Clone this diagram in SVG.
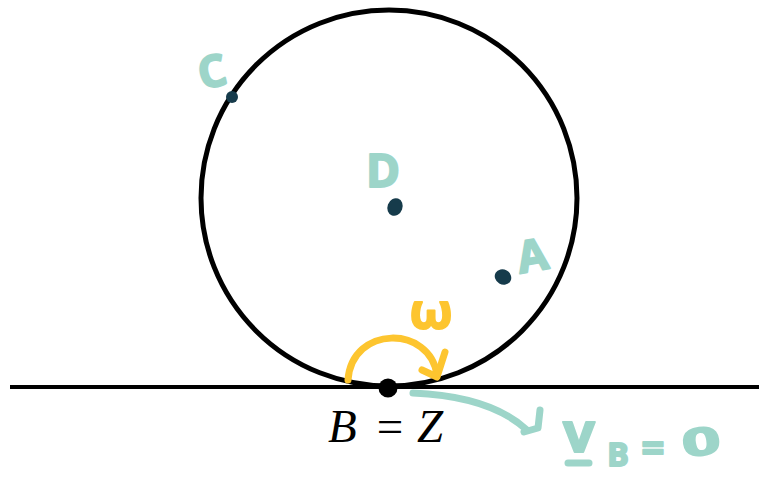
<svg xmlns="http://www.w3.org/2000/svg" width="759" height="478" viewBox="0 0 759 478">
  <style>
    .hand { fill: #9dd5c9; stroke: #9dd5c9; stroke-width: 2; stroke-linejoin: round; font-family: "Open Sans", "DejaVu Sans", sans-serif; font-weight: bold; }
    .yel { fill: #fdc52f; stroke: #fdc52f; stroke-width: 2; stroke-linejoin: round; font-family: "Open Sans", "DejaVu Sans", sans-serif; font-weight: bold; }
    .pt { fill: #163b4b; }
    .math { font-family: "Liberation Serif", "DejaVu Serif", serif; font-size: 47px; fill: #000; }
    .tealline { fill: none; stroke: #9dd5c9; stroke-width: 7; stroke-linecap: round; stroke-linejoin: round; }
    .yelline { fill: none; stroke: #fdc52f; stroke-width: 7; stroke-linecap: round; stroke-linejoin: round; }
  </style>
  <rect width="759" height="478" fill="#ffffff"/>
  <g id="ground">
    <line x1="10" y1="387" x2="759" y2="387" stroke="#000" stroke-width="4"/>
  </g>
  <g id="wheel">
    <circle cx="389" cy="198" r="188" fill="none" stroke="#000" stroke-width="5"/>
  </g>
  <g id="pointC">
    <circle class="pt" cx="232" cy="97" r="6"/>
    <text class="hand" x="212" y="87" font-size="44" text-anchor="middle" transform="rotate(-12 212 72)">C</text>
  </g>
  <g id="pointD">
    <ellipse class="pt" cx="395" cy="207" rx="7.5" ry="9" transform="rotate(20 395 207)"/>
    <text class="hand" x="383" y="187" font-size="46" text-anchor="middle">D</text>
  </g>
  <g id="pointA">
    <ellipse class="pt" cx="503" cy="277" rx="8.5" ry="7.5" transform="rotate(30 503 277)"/>
    <text class="hand" x="532" y="271" font-size="44" text-anchor="middle" transform="rotate(-10 532 254)">A</text>
  </g>
  <g id="pointB">
    <circle cx="388" cy="388" r="9.5" fill="#000"/>
    <text class="math" x="328" y="442" font-style="italic">B</text>
    <text class="math" x="390" y="442" text-anchor="middle" font-size="56">=</text>
    <text class="math" x="417" y="442" font-style="italic">Z</text>
  </g>
  <g id="omega">
    <text class="yel" x="431" y="329" font-size="50" text-anchor="middle">ω</text>
  </g>
  <g id="velocity">
    <text class="hand" x="579" y="452" font-size="56" text-anchor="middle">v</text>
    <line class="tealline" x1="568" y1="463" x2="589" y2="463"/>
    <text class="hand" x="618" y="466" font-size="32" text-anchor="middle">B</text>
    <text class="hand" x="653" y="462" font-size="40" text-anchor="middle">=</text>
    <text class="hand" x="0" y="0" font-size="48" text-anchor="middle" transform="translate(703 455) rotate(-8) scale(1.4 0.8)">0</text>
  </g>
  <g id="connectors">
    <path class="yelline" d="M 348 380 C 352 325, 430 325, 437 375"/>
    <path class="yelline" d="M 422 370 L 437 377 L 445 352"/>
    <path class="tealline" d="M 413 393 C 460 395, 500 405, 527 430"/>
    <path class="tealline" d="M 540 410 L 538 428 L 524 432"/>
  </g>
</svg>
